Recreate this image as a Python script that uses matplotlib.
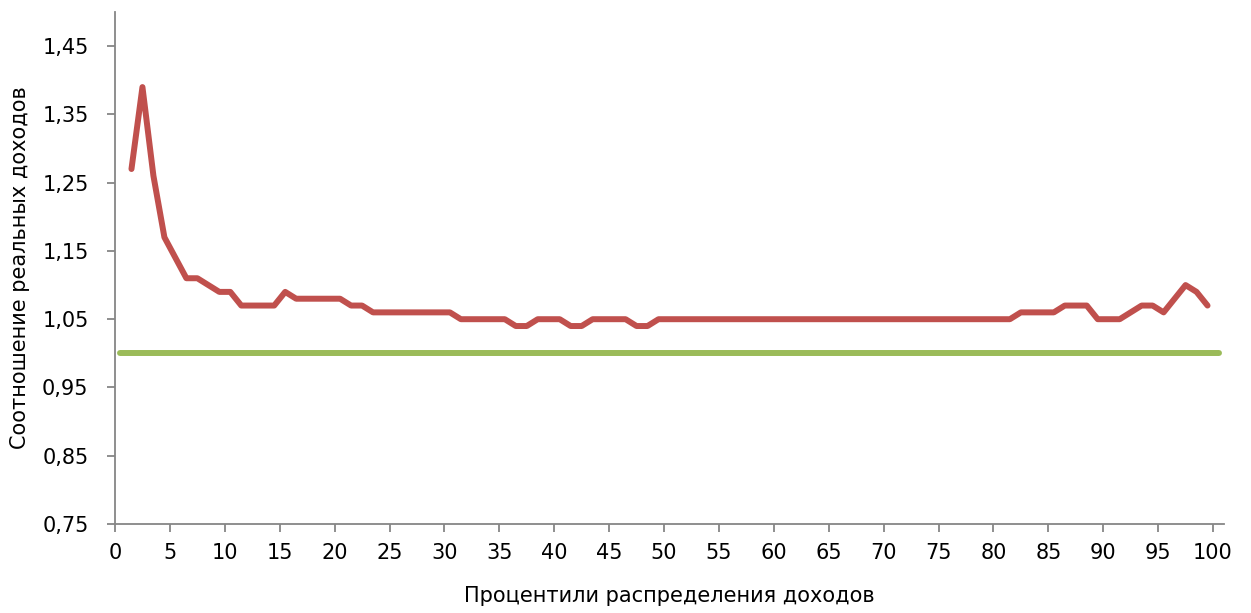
import numpy as np
import matplotlib
matplotlib.use('Agg')
import matplotlib.pyplot as plt

plt.rcParams['font.family'] = ['DejaVu Sans']

# percentiles 1..99, drawn at category centres
percentiles = np.arange(1, 100)
ratio = [1.27, 1.39, 1.26, 1.17, 1.14, 1.11, 1.11, 1.10, 1.09, 1.09,
         1.07, 1.07, 1.07, 1.07, 1.09, 1.08, 1.08, 1.08, 1.08, 1.08,
         1.07, 1.07, 1.06, 1.06, 1.06, 1.06, 1.06, 1.06, 1.06, 1.06,
         1.05, 1.05, 1.05, 1.05, 1.05, 1.04, 1.04, 1.05, 1.05, 1.05,
         1.04, 1.04, 1.05, 1.05, 1.05, 1.05, 1.04, 1.04, 1.05, 1.05,
         1.05, 1.05, 1.05, 1.05, 1.05, 1.05, 1.05, 1.05, 1.05, 1.05,
         1.05, 1.05, 1.05, 1.05, 1.05, 1.05, 1.05, 1.05, 1.05, 1.05,
         1.05, 1.05, 1.05, 1.05, 1.05, 1.05, 1.05, 1.05, 1.05, 1.05,
         1.05, 1.06, 1.06, 1.06, 1.06, 1.07, 1.07, 1.07, 1.05, 1.05,
         1.05, 1.06, 1.07, 1.07, 1.06, 1.08, 1.10, 1.09, 1.07]

# reference level (ratio = 1)
base_x = [0, 100]
base_y = [1.0, 1.0]

y_ticks = [0.75, 0.85, 0.95, 1.05, 1.15, 1.25, 1.35, 1.45]
y_labels = ['0,75', '0,85', '0,95', '1,05', '1,15', '1,25', '1,35', '1,45']
x_ticks = list(range(0, 101, 5))

red = '#C0504D'
green = '#9BBB59'
axis_col = '#868686'

fig = plt.figure(figsize=(12.51, 6.13), dpi=100)
ax = fig.add_axes([115 / 1251, 1 - 524 / 613, (1224 - 115) / 1251, (524 - 12) / 613])

ax.plot(np.array(base_x) + 0.5, base_y, color=green, lw=4.3, solid_capstyle='round')
ax.plot(percentiles + 0.5, ratio, color=red, lw=4.3,
        solid_capstyle='round', solid_joinstyle='round')

ax.set_xlim(0, 101)
ax.set_ylim(0.75, 1.5)
ax.set_xticks(x_ticks)
ax.set_xticklabels([str(t) for t in x_ticks])
ax.set_yticks(y_ticks)
ax.set_yticklabels(y_labels)

for s in ['top', 'right']:
    ax.spines[s].set_visible(False)
for s in ['left', 'bottom']:
    ax.spines[s].set_color(axis_col)
    ax.spines[s].set_linewidth(1.3)

ax.tick_params(axis='both', direction='out', length=6, width=1.3,
               color=axis_col, labelsize=15, labelcolor='black')
ax.tick_params(axis='x', pad=8)
ax.tick_params(axis='y', pad=13)

ax.set_xlabel('Процентили распределения доходов', fontsize=15, labelpad=16)
ax.set_ylabel('Соотношение реальных доходов', fontsize=15, labelpad=9)

fig.savefig('out.png', dpi=100)
